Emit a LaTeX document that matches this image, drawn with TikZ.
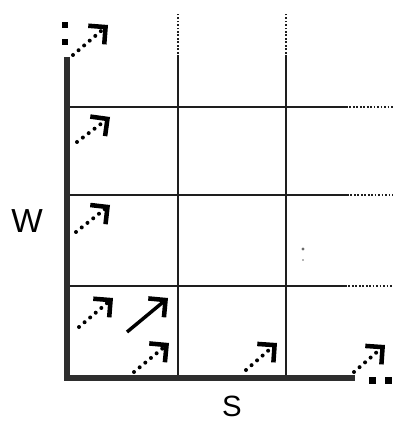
\documentclass[tikz,border=0pt]{standalone}
\usepackage{fontspec}
\setmainfont{Liberation Sans}
\usepackage{tikz}
\usetikzlibrary{arrows.meta}
\definecolor{AxisDark}{HTML}{2E2E2E}
\definecolor{LineDark}{HTML}{1E1E1E}
\definecolor{SpeckGray}{HTML}{6B6B6B}

\begin{document}
\begin{tikzpicture}[
  x=0.75pt, y=-0.75pt,
  axis/.style={line width=5pt, draw=AxisDark},
  gridline/.style={line width=1.1pt, draw=LineDark},
  gridtail/.style={line width=1.2pt, draw=LineDark, dash pattern=on 1.3pt off 1.3pt},
  endmark/.style={fill=black},
  spin/.style={line width=3pt, line cap=round, dash pattern=on 0pt off 5.5pt,
    -{Straight Barb[angle=90:13pt, line width=3.4pt]}},
  bigspin/.style={line width=2.6pt, -{Straight Barb[angle=90:13pt, line width=3.4pt]}},
  axislabel/.style={font=\fontsize{23}{26}\selectfont, inner sep=0pt}
]
  \useasboundingbox (0,0) rectangle (395,423);

  % grid
  \draw[gridline] (178,57) -- (178,378);
  \draw[gridline] (286,57) -- (286,378);
  \draw[gridtail] (178,57) -- (178,14);
  \draw[gridtail] (286,57) -- (286,12);
  \draw[gridline] (67,107) -- (346,107);
  \draw[gridline] (67,195) -- (347,195);
  \draw[gridline] (67,286) -- (345,286);
  \draw[gridtail] (346,107) -- (393,107);
  \draw[gridtail] (347,195) -- (393,195);
  \draw[gridtail] (345,286) -- (393,286);

  % axes
  \draw[axis] (67,57) -- (67,378) -- (355,378);
  \fill[endmark] (62,22) rectangle (68,28);
  \fill[endmark] (62,39) rectangle (68,45);
  \fill[endmark] (369,377) rectangle (376,384);
  \fill[endmark] (385,377) rectangle (392,384);

  % arrows
  \draw[spin] (73,55) -- (108,25);
  \draw[spin] (77,142) -- (110,117);
  \draw[spin] (76,232) -- (110,205);
  \draw[spin] (79,327) -- (113,298);
  \draw[spin] (134,372) -- (169,343);
  \draw[spin] (246,370) -- (277,343);
  \draw[spin] (354,372) -- (385,345);
  \draw[bigspin] (127,332) -- (168,298);

  \fill[SpeckGray] (303,249) circle (1.6);
  \fill[SpeckGray] (303,260) circle (0.9);

  % labels
  \node[axislabel, font=\fontsize{25}{28}\selectfont] (west) at (27,221) {W};
  \node[axislabel, font=\fontsize{22}{24}\selectfont] (south) at (232,406) {S};
\end{tikzpicture}
\end{document}
